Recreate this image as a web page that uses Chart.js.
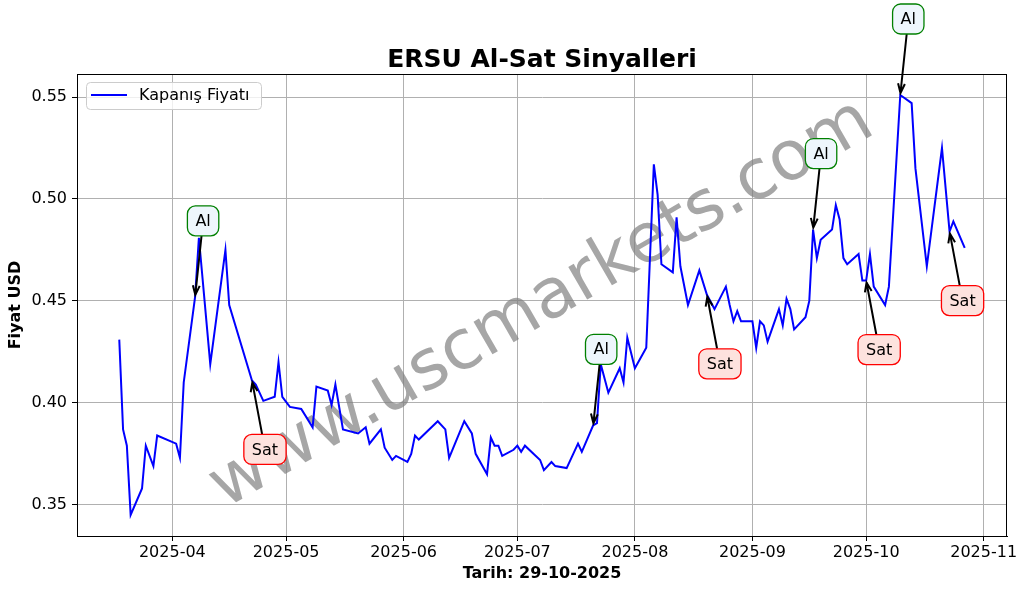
<!DOCTYPE html>
<html>
<head>
<meta charset="utf-8">
<script src="https://cdn.jsdelivr.net/npm/chart.js@4.4.0/dist/chart.umd.min.js"></script>
<style>
  html, body { margin: 0; padding: 0; background: #fff; }
</style>
</head>
<body>
<canvas id="chart" width="1029" height="591"></canvas>
<script>
// closing prices
const dates = [
  "2025-03-18","2025-03-19","2025-03-20","2025-03-21","2025-03-24","2025-03-25","2025-03-27","2025-03-28",
  "2025-04-02","2025-04-03","2025-04-04","2025-04-07","2025-04-08","2025-04-11","2025-04-15","2025-04-16",
  "2025-04-22","2025-04-23","2025-04-25","2025-04-28","2025-04-29","2025-04-30","2025-05-02","2025-05-05",
  "2025-05-08","2025-05-09","2025-05-12","2025-05-13","2025-05-14","2025-05-16","2025-05-20","2025-05-22",
  "2025-05-23","2025-05-26","2025-05-27","2025-05-29","2025-05-30","2025-06-02","2025-06-03","2025-06-04",
  "2025-06-05","2025-06-10","2025-06-12","2025-06-13","2025-06-17","2025-06-19","2025-06-20","2025-06-23",
  "2025-06-24","2025-06-25","2025-06-26","2025-06-27","2025-06-30","2025-07-01","2025-07-02","2025-07-03",
  "2025-07-07","2025-07-08","2025-07-10","2025-07-11","2025-07-14","2025-07-17","2025-07-18","2025-07-21",
  "2025-07-22","2025-07-23","2025-07-25","2025-07-28","2025-07-29","2025-07-30","2025-08-01","2025-08-04",
  "2025-08-06","2025-08-07","2025-08-08","2025-08-11","2025-08-12","2025-08-13","2025-08-15","2025-08-18",
  "2025-08-20","2025-08-22","2025-08-25","2025-08-26","2025-08-27","2025-08-28","2025-08-29","2025-09-01",
  "2025-09-02","2025-09-03","2025-09-04","2025-09-05","2025-09-08","2025-09-09","2025-09-10","2025-09-11",
  "2025-09-12","2025-09-15","2025-09-16","2025-09-17","2025-09-18","2025-09-19","2025-09-22","2025-09-23",
  "2025-09-24","2025-09-25","2025-09-26","2025-09-29","2025-09-30","2025-10-01","2025-10-02","2025-10-03",
  "2025-10-06","2025-10-07","2025-10-10","2025-10-13","2025-10-14","2025-10-17","2025-10-21","2025-10-23",
  "2025-10-24","2025-10-27"
];
const prices = [
  0.431, 0.387, 0.379, 0.345, 0.358, 0.379, 0.369, 0.384,
  0.380, 0.373, 0.410, 0.452, 0.481, 0.419, 0.475, 0.448,
  0.411, 0.409, 0.401, 0.403, 0.420, 0.403, 0.398, 0.397,
  0.388, 0.408, 0.406, 0.399, 0.409, 0.387, 0.385, 0.388,
  0.380, 0.387, 0.378, 0.372, 0.374, 0.371, 0.375, 0.384,
  0.382, 0.391, 0.387, 0.373, 0.391, 0.385, 0.375, 0.365,
  0.383, 0.379, 0.379, 0.374, 0.377, 0.379, 0.376, 0.379,
  0.372, 0.367, 0.371, 0.369, 0.368, 0.380, 0.376, 0.389,
  0.390, 0.419, 0.405, 0.417, 0.410, 0.432, 0.417, 0.427,
  0.517, 0.502, 0.468, 0.464, 0.491, 0.467, 0.448, 0.465,
  0.453, 0.446, 0.457, 0.448, 0.440, 0.445, 0.440, 0.440,
  0.427, 0.440, 0.438, 0.430, 0.446, 0.438, 0.451, 0.446,
  0.436, 0.442, 0.450, 0.485, 0.471, 0.480, 0.485, 0.497,
  0.490, 0.471, 0.468, 0.473, 0.460, 0.460, 0.473, 0.457,
  0.448, 0.457, 0.551, 0.547, 0.515, 0.467, 0.525, 0.484,
  0.489, 0.476
];

const buyDates = ["2025-04-07", "2025-07-21", "2025-09-17", "2025-10-10"];
const sellDates = ["2025-04-22", "2025-08-20", "2025-10-01", "2025-10-23"];

const monthTicks = ["2025-04-01","2025-05-01","2025-06-01","2025-07-01","2025-08-01","2025-09-01","2025-10-01","2025-11-01"];
const yTicks = [0.35, 0.40, 0.45, 0.50, 0.55];

const FONT = "'DejaVu Sans', sans-serif";

// date string -> day number
function dayNum(s) {
  const [y, m, d] = s.split("-").map(Number);
  return Date.UTC(y, m - 1, d) / 86400000;
}
function dayLabel(v) {
  const dt = new Date(v * 86400000);
  return dt.getUTCFullYear() + "-" + String(dt.getUTCMonth() + 1).padStart(2, "0");
}

const points = dates.map((d, i) => ({ x: dayNum(d), y: prices[i] }));

// matplotlib style 5% margins
const xs = points.map(p => p.x), ys = points.map(p => p.y);
const xMin = Math.min(...xs), xMax = Math.max(...xs);
const yMin = Math.min(...ys), yMax = Math.max(...ys);
const xPad = (xMax - xMin) * 0.05, yPad = (yMax - yMin) * 0.05;

function priceOn(d) {
  return prices[dates.indexOf(d)];
}

function roundRect(ctx, x, y, w, h, r) {
  ctx.beginPath();
  ctx.moveTo(x + r, y);
  ctx.arcTo(x + w, y, x + w, y + h, r);
  ctx.arcTo(x + w, y + h, x, y + h, r);
  ctx.arcTo(x, y + h, x, y, r);
  ctx.arcTo(x, y, x + w, y, r);
  ctx.closePath();
}

function drawSignal(ctx, px, py, text, dx, dy, edge, fill) {
  ctx.font = "16px " + FONT;
  const tw = ctx.measureText(text).width;
  const w = tw + 16, h = 30;
  const cx = px + dx, cy = py + dy;

  // arrow from box edge to the point
  const vx = px - cx, vy = py - cy;
  const t = Math.min((w / 2) / Math.abs(vx || 1e-9), (h / 2) / Math.abs(vy || 1e-9));
  const sx = cx + vx * t, sy = cy + vy * t;
  const ang = Math.atan2(py - sy, px - sx);
  const ex = px - Math.cos(ang) * 2, ey = py - Math.sin(ang) * 2;
  ctx.save();
  ctx.strokeStyle = "#000";
  ctx.lineWidth = 2;
  ctx.beginPath();
  ctx.moveTo(sx, sy);
  ctx.lineTo(ex, ey);
  ctx.moveTo(ex - Math.cos(ang - 0.35) * 10, ey - Math.sin(ang - 0.35) * 10);
  ctx.lineTo(ex, ey);
  ctx.lineTo(ex - Math.cos(ang + 0.35) * 10, ey - Math.sin(ang + 0.35) * 10);
  ctx.stroke();

  roundRect(ctx, cx - w / 2, cy - h / 2, w, h, 8);
  ctx.fillStyle = fill;
  ctx.fill();
  ctx.strokeStyle = edge;
  ctx.lineWidth = 1.3;
  ctx.stroke();

  ctx.fillStyle = "#000";
  ctx.textAlign = "center";
  ctx.textBaseline = "middle";
  ctx.fillText(text, cx, cy + 1);
  ctx.restore();
}

const overlay = {
  id: "overlay",
  beforeDatasetsDraw(chart) {
    const { ctx, chartArea: a } = chart;
    ctx.save();
    ctx.translate((a.left + a.right) / 2, (a.top + a.bottom) / 2);
    ctx.rotate(-30 * Math.PI / 180);
    ctx.font = "69px " + FONT;
    ctx.fillStyle = "rgba(128,128,128,0.7)";
    ctx.textAlign = "center";
    ctx.textBaseline = "middle";
    ctx.fillText("www.uscmarkets.com", 0, 0);
    ctx.restore();
  },
  afterDraw(chart) {
    const { ctx, chartArea: a, scales } = chart;
    ctx.save();
    // frame
    ctx.strokeStyle = "#000";
    ctx.lineWidth = 1;
    ctx.strokeRect(a.left + 0.5, a.top + 0.5, a.right - a.left - 1, a.bottom - a.top);

    // title
    ctx.fillStyle = "#000";
    ctx.font = "bold 25px " + FONT;
    ctx.textAlign = "center";
    ctx.textBaseline = "alphabetic";
    ctx.fillText("ERSU Al-Sat Sinyalleri", (a.left + a.right) / 2, 67);

    // legend
    const lx = a.left + 9, ly = a.top + 8;
    roundRect(ctx, lx + 0.5, ly + 0.5, 175, 27, 4);
    ctx.fillStyle = "rgba(255,255,255,0.8)";
    ctx.fill();
    ctx.strokeStyle = "#cccccc";
    ctx.lineWidth = 1;
    ctx.stroke();
    ctx.strokeStyle = "#0000ff";
    ctx.lineWidth = 2;
    ctx.beginPath();
    ctx.moveTo(lx + 5, ly + 13);
    ctx.lineTo(lx + 41, ly + 13);
    ctx.stroke();
    ctx.fillStyle = "#000";
    ctx.font = "16px " + FONT;
    ctx.textAlign = "left";
    ctx.textBaseline = "middle";
    ctx.fillText("Kapanış Fiyatı", lx + 53, ly + 14);
    ctx.restore();

    // signals
    buyDates.forEach(d => {
      const px = scales.x.getPixelForValue(dayNum(d));
      const py = scales.y.getPixelForValue(priceOn(d));
      drawSignal(ctx, px, py, "Al", 8, -76, "#008000", "#eef6fc");
    });
    sellDates.forEach(d => {
      const px = scales.x.getPixelForValue(dayNum(d));
      const py = scales.y.getPixelForValue(priceOn(d));
      drawSignal(ctx, px, py, "Sat", 13, 69, "#ff0000", "#fde2de");
    });
  }
};

new Chart(document.getElementById("chart"), {
  type: "line",
  data: {
    datasets: [{
      label: "Kapanış Fiyatı",
      data: points,
      borderColor: "#0000ff",
      borderWidth: 2,
      pointRadius: 0,
      tension: 0,
      fill: false
    }]
  },
  options: {
    responsive: false,
    animation: false,
    devicePixelRatio: 1,
    layout: { padding: { top: 74, right: 22, left: 0, bottom: 0 } },
    plugins: {
      legend: { display: false },
      tooltip: { enabled: false }
    },
    scales: {
      x: {
        type: "linear",
        min: xMin - xPad,
        max: xMax + xPad,
        afterBuildTicks: s => { s.ticks = monthTicks.map(d => ({ value: dayNum(d) })); },
        afterFit: s => { s.height = 55; s.paddingLeft = 0; s.paddingRight = 0; },
        grid: { color: "#b0b0b0", lineWidth: 1, tickLength: 5, tickColor: "#000" },
        border: { display: true, color: "#000", width: 1 },
        ticks: {
          color: "#000",
          padding: 2,
          maxRotation: 0,
          autoSkip: false,
          font: { family: FONT, size: 16 },
          callback: v => dayLabel(v)
        },
        title: {
          display: true,
          text: "Tarih: 29-10-2025",
          color: "#000",
          font: { family: FONT, size: 16, weight: "bold" },
          padding: { top: 0, bottom: 8 }
        }
      },
      y: {
        min: yMin - yPad,
        max: yMax + yPad,
        afterBuildTicks: s => { s.ticks = yTicks.map(v => ({ value: v })); },
        afterFit: s => { s.width = 77; s.paddingTop = 0; s.paddingBottom = 0; },
        grid: { color: "#b0b0b0", lineWidth: 1, tickLength: 5, tickColor: "#000" },
        border: { display: true, color: "#000", width: 1 },
        ticks: {
          color: "#000",
          padding: 5,
          font: { family: FONT, size: 16 },
          callback: v => v.toFixed(2)
        },
        title: {
          display: true,
          text: "Fiyat USD",
          color: "#000",
          font: { family: FONT, size: 16, weight: "bold" },
          padding: { top: 6, bottom: 0 }
        }
      }
    }
  },
  plugins: [overlay]
});
</script>
</body>
</html>
